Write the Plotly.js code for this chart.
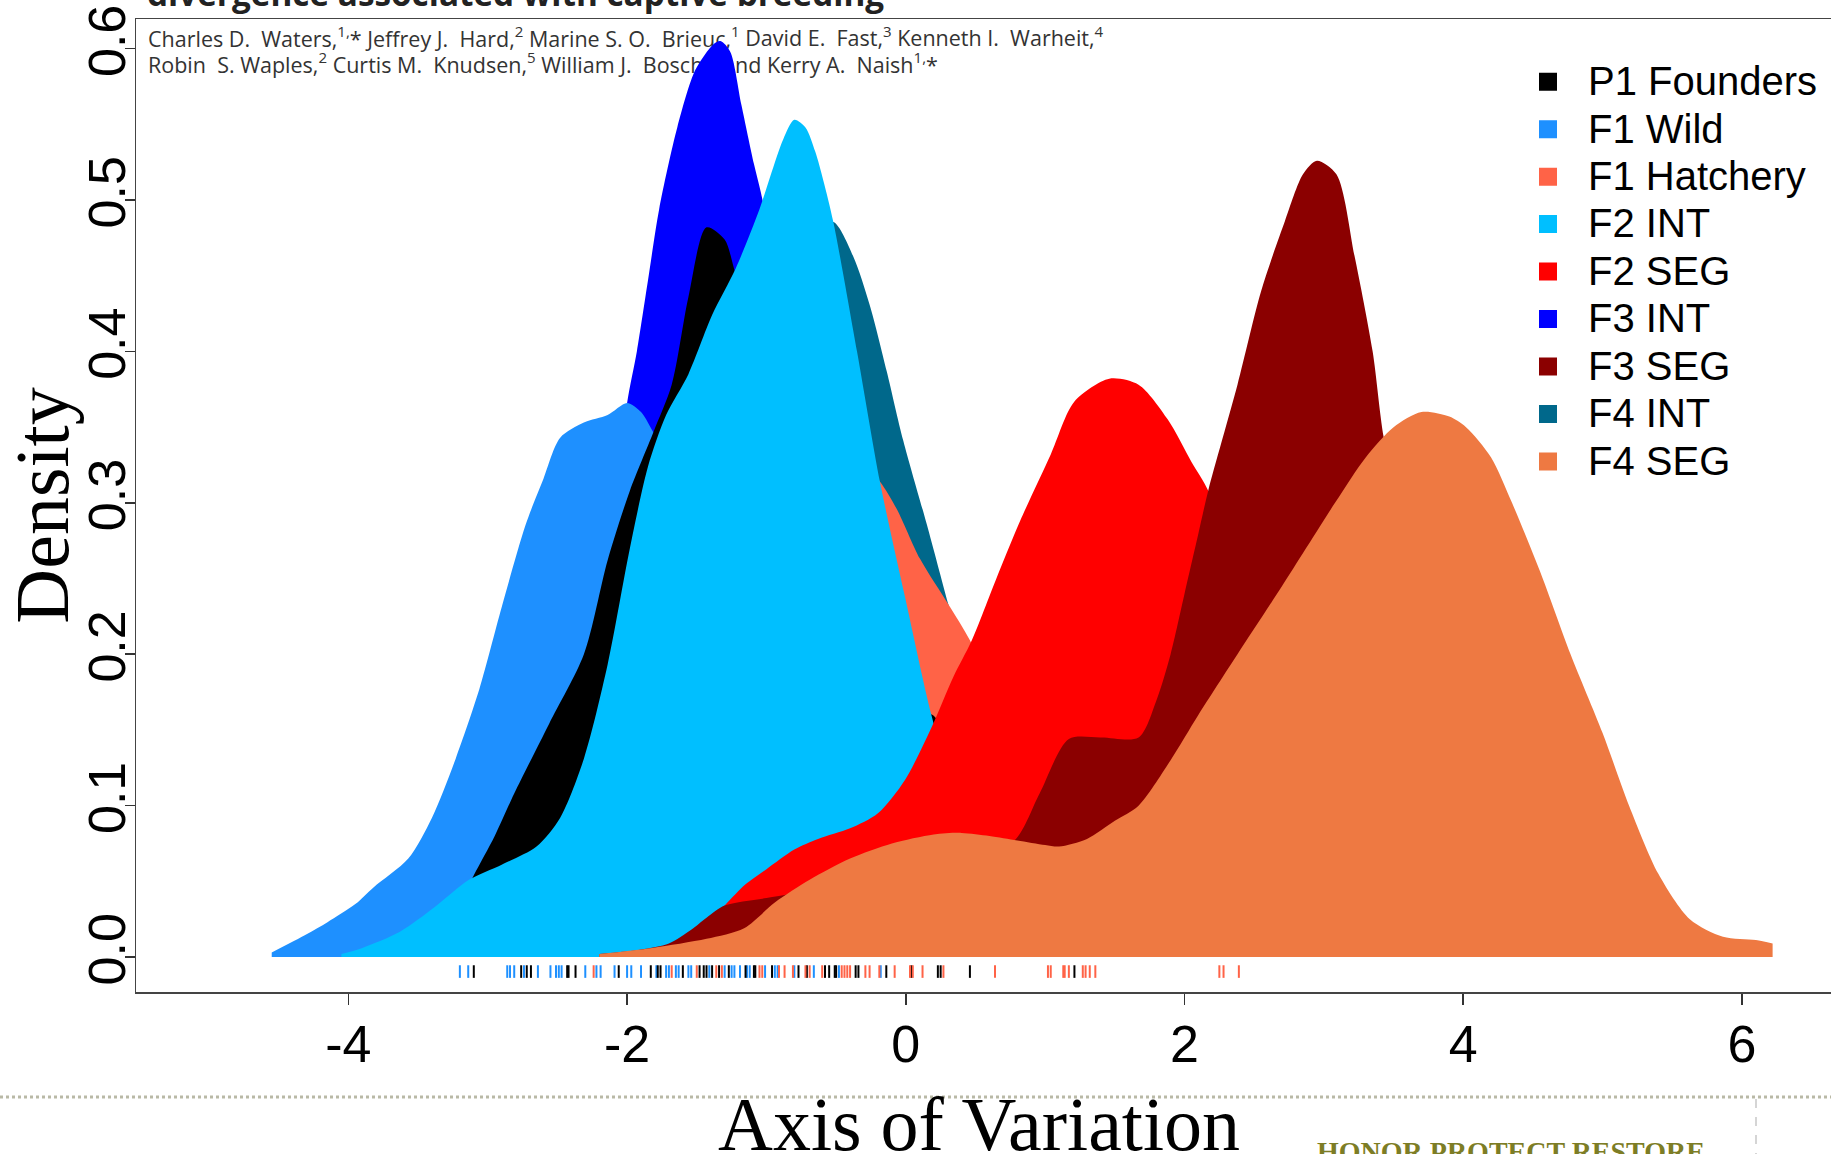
<!DOCTYPE html>
<html>
<head>
<meta charset="utf-8">
<script src="https://cdn.plot.ly/plotly-3.0.1.min.js"></script>
<style>html,body{margin:0;padding:0;background:#fff;}#chart{width:1831px;height:1154px;}</style>
</head>
<body>
<div id="chart"></div>
<script>
// ---------- data ----------
const seriesNames = ['P1 Founders','F1 Wild','F1 Hatchery','F2 INT','F2 SEG','F3 INT','F3 SEG','F4 INT','F4 SEG'];
const seriesColors = ['#000000','#1E90FF','#FF6347','#00BFFF','#FF0000','#0000FF','#8B0000','#00688B','#EE7942'];

const founders_x = [-3.6,-3.4,-3.2,-3.1,-2.95,-2.81,-2.56,-2.31,-2.14,-1.98,-1.81,-1.68,-1.56,-1.43,-1.30,-1.22,-1.0,-0.8,-0.5,-0.2,0.0,0.19,0.5,0.8,1.2,1.6];
const founders_y = [0.003,0.012,0.035,0.054,0.08,0.108,0.154,0.2,0.262,0.308,0.347,0.378,0.436,0.482,0.474,0.451,0.40,0.34,0.26,0.19,0.16,0.16,0.1,0.055,0.02,0.003];

const wild_x = [-4.55,-4.3,-4.15,-3.95,-3.82,-3.57,-3.40,-3.23,-3.06,-2.90,-2.73,-2.60,-2.48,-2.31,-2.14,-2.0,-1.9,-1.8,-1.6,-1.3,-1.0,-0.7,-0.4,-0.1,0.2,0.4];
const wild_y = [0.003,0.015,0.023,0.035,0.046,0.065,0.092,0.131,0.177,0.231,0.285,0.316,0.343,0.353,0.358,0.366,0.36,0.345,0.32,0.27,0.21,0.14,0.08,0.03,0.008,0.002];

const hatch_x = [-2.8,-2.4,-2.0,-1.7,-1.4,-1.1,-0.8,-0.5,-0.3,-0.185,-0.065,0.102,0.305,0.461,0.6,0.8,1.0,1.2,1.4,1.7,2.0,2.3,2.6,2.9];
const hatch_y = [0.003,0.02,0.07,0.14,0.22,0.28,0.32,0.33,0.325,0.314,0.296,0.263,0.233,0.209,0.18,0.13,0.09,0.065,0.045,0.025,0.015,0.012,0.006,0.002];

const int2_x = [-4.05,-3.9,-3.63,-3.38,-3.135,-2.9,-2.65,-2.48,-2.31,-2.14,-1.98,-1.85,-1.72,-1.56,-1.39,-1.22,-1.05,-0.88,-0.80,-0.72,-0.65,-0.592,-0.52,-0.35,-0.185,-0.006,0.186,0.4,0.6,0.8,1.0,1.3];
const int2_y = [0.002,0.006,0.0167,0.033,0.051,0.061,0.073,0.092,0.131,0.193,0.27,0.324,0.358,0.385,0.424,0.455,0.494,0.540,0.553,0.548,0.532,0.513,0.4855,0.40,0.3136,0.238,0.159,0.09,0.045,0.02,0.008,0.002];

const seg2_x = [-2.0,-1.7,-1.5,-1.3,-1.15,-1.0,-0.8,-0.63,-0.4,-0.2,-0.006,0.186,0.341,0.473,0.65,0.82,1.04,1.21,1.46,1.67,1.88,2.05,2.17,2.3,2.5,2.8,3.1,3.5,4.0,4.5];
const seg2_y = [0.002,0.006,0.015,0.034,0.048,0.058,0.071,0.078,0.085,0.095,0.117,0.152,0.185,0.209,0.25,0.288,0.332,0.367,0.382,0.378,0.355,0.327,0.308,0.27,0.21,0.13,0.07,0.03,0.01,0.002];

const int3_x = [-3.5,-3.0,-2.7,-2.4,-2.2,-2.1,-2.0,-1.93,-1.85,-1.77,-1.64,-1.51,-1.38,-1.33,-1.26,-1.18,-1.09,-1.04,-0.8,-0.5,-0.2,0.2,0.5];
const int3_y = [0.003,0.02,0.05,0.12,0.22,0.29,0.366,0.40,0.447,0.494,0.548,0.586,0.603,0.605,0.598,0.563,0.524,0.505,0.40,0.25,0.1,0.02,0.003];

const seg3_x = [-2.2,-1.9,-1.7,-1.54,-1.43,-1.3,-1.0,-0.6,-0.2,0.2,0.5,0.79,0.96,1.17,1.4,1.67,1.8,1.9,2.0,2.1,2.17,2.38,2.55,2.72,2.85,2.95,3.09,3.22,3.35,3.43,3.6,3.8,4.0,4.3,4.6,5.0,5.5];
const seg3_y = [0.002,0.005,0.009,0.018,0.026,0.034,0.039,0.045,0.05,0.055,0.063,0.078,0.108,0.144,0.145,0.145,0.17,0.2,0.24,0.28,0.308,0.378,0.44,0.486,0.517,0.526,0.517,0.463,0.40,0.343,0.27,0.19,0.13,0.07,0.03,0.01,0.002];

const int4_x = [-3.5,-3.0,-2.5,-2.0,-1.5,-1.2,-1.0,-0.8,-0.65,-0.52,-0.377,-0.257,-0.137,-0.018,0.15,0.305,0.45,0.6,0.8,1.0,1.3,1.7];
const int4_y = [0.002,0.01,0.04,0.12,0.27,0.36,0.42,0.46,0.48,0.4855,0.4627,0.43,0.387,0.341,0.286,0.233,0.185,0.14,0.085,0.045,0.015,0.002];

const seg4_x = [-2.2,-1.82,-1.43,-1.16,-0.94,-0.69,-0.4,-0.1,0.2,0.4,0.6,0.8,1.0,1.1,1.3,1.5,1.67,1.9,2.1,2.38,2.7,3.08,3.3,3.5,3.7,3.9,4.02,4.2,4.35,4.55,4.77,5.0,5.19,5.4,5.626,5.864,6.1,6.22];
const seg4_y = [0.002,0.006,0.012,0.019,0.036,0.051,0.065,0.075,0.081,0.082,0.080,0.077,0.074,0.073,0.078,0.09,0.1,0.13,0.16,0.2,0.245,0.3,0.33,0.35,0.36,0.357,0.35,0.33,0.3,0.255,0.2,0.148,0.1,0.055,0.025,0.0134,0.0112,0.009];

// rug values (individual observations)
const rug_wild = [-3.20,-3.14,-2.86,-2.84,-2.81,-2.74,-2.64,-2.55,-2.51,-2.49,-2.47,-2.30,-2.22,-2.19,-2.09,-2.00,-1.97,-1.90,-1.79,-1.72,-1.70,-1.65,-1.63,-1.56,-1.54,-1.41,-1.30,-1.25,-1.23,-1.19,-1.14,-1.12,-1.01,-0.94,-0.92,-0.80,-0.66,-0.48,-0.18];
const rug_founders = [-3.10,-2.76,-2.72,-2.69,-2.43,-2.42,-2.37,-2.06,-1.83,-1.78,-1.76,-1.60,-1.48,-1.45,-1.43,-1.39,-1.34,-1.27,-1.15,-1.09,-1.08,-0.96,-0.77,-0.71,-0.58,-0.55,-0.51,-0.50,-0.36,-0.34,-0.14,0.04,0.23,0.25,0.46,1.21];
const rug_hatch = [-2.24,-1.68,-1.50,-1.36,-1.32,-1.05,-1.03,-0.91,-0.87,-0.81,-0.72,-0.69,-0.60,-0.46,-0.44,-0.42,-0.40,-0.29,-0.26,-0.19,-0.08,0.03,0.05,0.12,0.27,0.64,1.02,1.04,1.13,1.14,1.17,1.27,1.29,1.32,1.36,2.25,2.28,2.39];

const xTickVals = [-4,-2,0,2,4,6];
const xTickText = ['-4','-2','0','2','4','6'];
const yTickVals = [0,0.1,0.2,0.3,0.4,0.5,0.6];
const yTickText = ['0.0','0.1','0.2','0.3','0.4','0.5','0.6'];

// ---------- build ----------
const densities = {
  'P1 Founders':[founders_x,founders_y],
  'F1 Wild':[wild_x,wild_y],
  'F1 Hatchery':[hatch_x,hatch_y],
  'F2 INT':[int2_x,int2_y],
  'F2 SEG':[seg2_x,seg2_y],
  'F3 INT':[int3_x,int3_y],
  'F3 SEG':[seg3_x,seg3_y],
  'F4 INT':[int4_x,int4_y],
  'F4 SEG':[seg4_x,seg4_y]
};
const colorOf = {};
seriesNames.forEach((n,i)=>colorOf[n]=seriesColors[i]);

// drawing order (bottom to top) as layered in the picture
const drawOrder = ['F3 INT','F4 INT','F1 Wild','F1 Hatchery','P1 Founders','F2 INT','F2 SEG','F3 SEG','F4 SEG'];

const traces = [];
drawOrder.forEach(n=>{
  const [xs,ys] = densities[n];
  traces.push({type:'scatter', mode:'lines', x:xs, y:ys, fill:'tozeroy',
    fillcolor:colorOf[n], line:{color:colorOf[n], width:0, shape:'spline', smoothing:0.8},
    showlegend:false, hoverinfo:'skip', name:n});
});

const rugLevel = -0.0096;
[[rug_wild,'F1 Wild'],[rug_founders,'P1 Founders'],[rug_hatch,'F1 Hatchery']].forEach(([vals,n])=>{
  traces.push({type:'scatter', mode:'markers', x:vals, y:vals.map(()=>rugLevel),
    marker:{symbol:'line-ns', size:9, line:{width:2, color:colorOf[n]}, color:colorOf[n]},
    showlegend:false, hoverinfo:'skip', cliponaxis:false});
});

// legend entries
seriesNames.forEach(n=>{
  traces.push({type:'scatter', mode:'markers', x:[null], y:[null],
    marker:{symbol:'square', size:16, color:colorOf[n], line:{width:2, color:colorOf[n]}},
    name:'<span style="font-size:40px">'+n+'</span>', showlegend:true, hoverinfo:'skip'});
});

const px2paperX = p => (p-136)/1695;
const px2paperY = p => (992-p)/973;

const layout = {
  width:1831, height:1154,
  margin:{l:136, r:0, t:19, b:162, pad:0},
  paper_bgcolor:'#ffffff', plot_bgcolor:'#ffffff',
  font:{family:'Liberation Sans', color:'#000'},
  showlegend:true,
  legend:{x:px2paperX(1508), xanchor:'left', y:px2paperY(53), yanchor:'top',
    font:{family:'Liberation Sans', size:34.2, color:'#000'}, itemwidth:70,
    bgcolor:'rgba(0,0,0,0)', borderwidth:0, traceorder:'normal'},
  xaxis:{range:[-5.524,6.639], tickmode:'array', tickvals:xTickVals, ticktext:xTickText,
    showgrid:false, zeroline:false, showline:true, mirror:true, linecolor:'#444', linewidth:1.5,
    ticks:'outside', ticklen:11, tickwidth:1.5, tickcolor:'#333',
    tickfont:{family:'Liberation Sans', size:52, color:'#000'}, ticklabelstandoff:-5,
    automargin:false, fixedrange:true},
  yaxis:{range:[-0.0231,0.6196], tickmode:'array', tickvals:yTickVals, ticktext:yTickText, tickangle:-90,
    showgrid:false, zeroline:false, showline:true, mirror:true, linecolor:'#444', linewidth:1.5,
    ticks:'outside', ticklen:10, tickwidth:1.5, tickcolor:'#333',
    tickfont:{family:'Liberation Sans', size:52, color:'#000'}, ticklabelstandoff:-21,
    title:{text:'Density', font:{family:'Liberation Serif', size:76, color:'#000'}, standoff:8},
    automargin:false, fixedrange:true},
  shapes:[
    {type:'rect', xref:'paper', yref:'paper', x0:px2paperX(145), x1:px2paperX(1200), y0:px2paperY(50), y1:px2paperY(25),
     line:{width:0}, fillcolor:'rgba(0,0,0,0)', layer:'below',
     label:{text:'Charles D.  Waters,<sup>1,</sup>* Jeffrey J.  Hard,<sup>2</sup> Marine S. O.  Brieuc,<sup>1</sup> David E.  Fast,<sup>3</sup> Kenneth I.  Warheit,<sup>4</sup>',
       textposition:'top left', padding:0, font:{family:'Open Sans', size:21.5, color:'#333'}}},
    {type:'rect', xref:'paper', yref:'paper', x0:px2paperX(145), x1:px2paperX(1200), y0:px2paperY(75), y1:px2paperY(51),
     line:{width:0}, fillcolor:'rgba(0,0,0,0)', layer:'below',
     label:{text:'Robin  S. Waples,<sup>2</sup> Curtis M.  Knudsen,<sup>5</sup> William J.  Bosch,<sup>3</sup> and Kerry A.  Naish<sup>1,</sup>*',
       textposition:'top left', padding:0, font:{family:'Open Sans', size:21.5, color:'#333'}}},
    {type:'line', xref:'paper', yref:'paper', x0:px2paperX(0), x1:px2paperX(1831), y0:px2paperY(1097), y1:px2paperY(1097),
     line:{color:'#b9b9a6', width:3, dash:'dot'}},
    {type:'line', xref:'paper', yref:'paper', x0:px2paperX(1756), x1:px2paperX(1756), y0:px2paperY(1099), y1:px2paperY(1154),
     line:{color:'#c8c8c8', width:1.5, dash:'dash'}}
  ],
  annotations:[
    {xref:'paper', yref:'paper', x:px2paperX(979), y:px2paperY(1124), xanchor:'center', yanchor:'middle', showarrow:false,
     text:'Axis of Variation', font:{family:'Liberation Serif', size:76, color:'#000'}},
    {xref:'paper', yref:'paper', x:px2paperX(145), y:px2paperY(18), xanchor:'left', yanchor:'bottom', showarrow:false,
     text:'<b>divergence associated with captive breeding</b>', font:{family:'Open Sans', size:33.3, color:'#222'}},
    {xref:'paper', yref:'paper', x:px2paperX(1511), y:px2paperY(1134), xanchor:'center', yanchor:'top', showarrow:false,
     text:'<b>HONOR PROTECT RESTORE</b>', font:{family:'Liberation Serif', size:28, color:'#7d7d25'}}
  ]
};

Plotly.newPlot('chart', traces, layout, {displayModeBar:false, staticPlot:true});
</script>
</body>
</html>
